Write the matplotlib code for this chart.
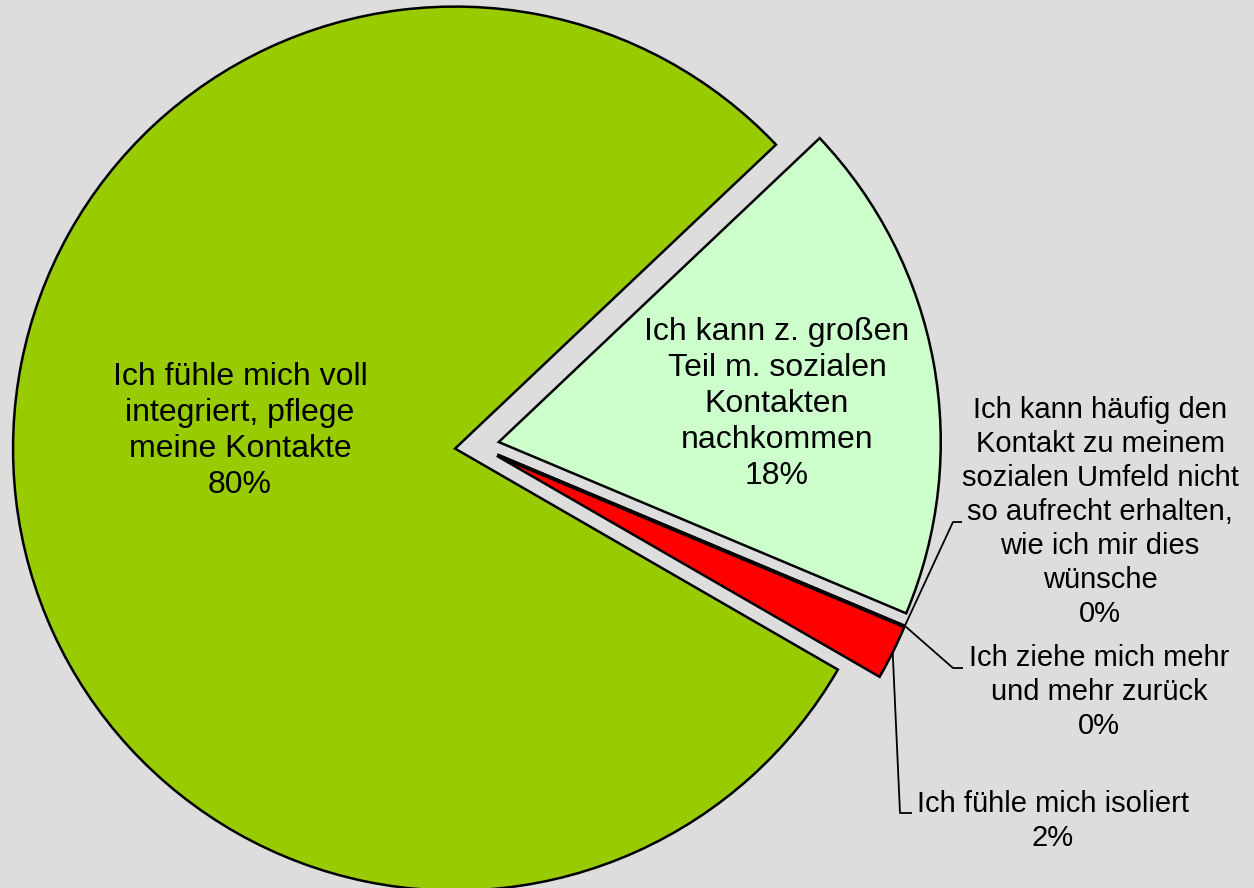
"""
Pie chart: Soziale Kontakte / Integration (Anteile der Antworten).
Output: out.png
"""

import numpy as np
import matplotlib.pyplot as plt

plt.rcParams["font.family"] = ["Liberation Sans", "DejaVu Sans"]

LABELS = [
    "Ich fühle mich voll\nintegriert, pflege\nmeine Kontakte",
    "Ich kann z. großen\nTeil m. sozialen\nKontakten\nnachkommen",
    "Ich kann häufig den\nKontakt zu meinem\nsozialen Umfeld nicht\nso aufrecht erhalten,\nwie ich mir dies\nwünsche",
    "Ich ziehe mich mehr\nund mehr zurück",
    "Ich fühle mich isoliert",
]
VALUES = [79.6, 18.4, 0, 0, 2.0]   # percent, shown rounded
COLORS = ["#99CC00", "#CCFFCC", "#FFFF99", "#FFCC99", "#FF0000"]

# figure geometry (pixels)
W, H = 1254, 888
CX, CY, RPX = 477, 446, 442   # pie centre and radius in pixels
BG = "#DDDDDD"


def px(x, y):
    """pixel position (from top-left) -> data coords of the pie axes"""
    return (x - CX) / RPX, (CY - y) / RPX


# label centres (pixels) and leader elbows for the outside labels
LABEL_POS = [(240, 431), (777, 404), (1100, 512), (1099, 692), (1053, 821)]
LEADERS = {
    2: [(953, 522), (962, 522)],
    3: [(953, 668), (963, 668)],
    4: [(900, 813), (912, 813)],
}

fig = plt.figure(figsize=(W / 100, H / 100), dpi=100, facecolor=BG)
ax = fig.add_axes([0, 0, 1, 1])
ax.set_facecolor(BG)

wedges, _ = ax.pie(
    VALUES,
    colors=COLORS,
    explode=[0.05] * len(VALUES),
    startangle=-30,
    counterclock=False,
    radius=1,
    wedgeprops=dict(edgecolor="black", linewidth=1.8),
)

ax.set_xlim(-CX / RPX, (W - CX) / RPX)
ax.set_ylim((CY - H) / RPX, CY / RPX)
ax.set_aspect("equal")
ax.axis("off")

for i, (lab, val) in enumerate(zip(LABELS, VALUES)):
    tx, ty = px(*LABEL_POS[i])
    inside = i not in LEADERS
    ax.text(tx, ty, f"{lab}\n{val:.0f}%", ha="center", va="center",
            fontsize=23 if inside else 21,
            linespacing=1.26 if inside else 1.28, color="black")

    if i in LEADERS:
        w = wedges[i]
        mid = np.deg2rad((w.theta1 + w.theta2) / 2)
        x0 = w.center[0] + w.r * np.cos(mid)
        y0 = w.center[1] + w.r * np.sin(mid)
        pts = [(x0, y0)] + [px(*p) for p in LEADERS[i]]
        xs, ys = zip(*pts)
        ax.plot(xs, ys, color="black", linewidth=1.3, solid_capstyle="butt")

fig.savefig("out.png", dpi=100, facecolor=BG)
